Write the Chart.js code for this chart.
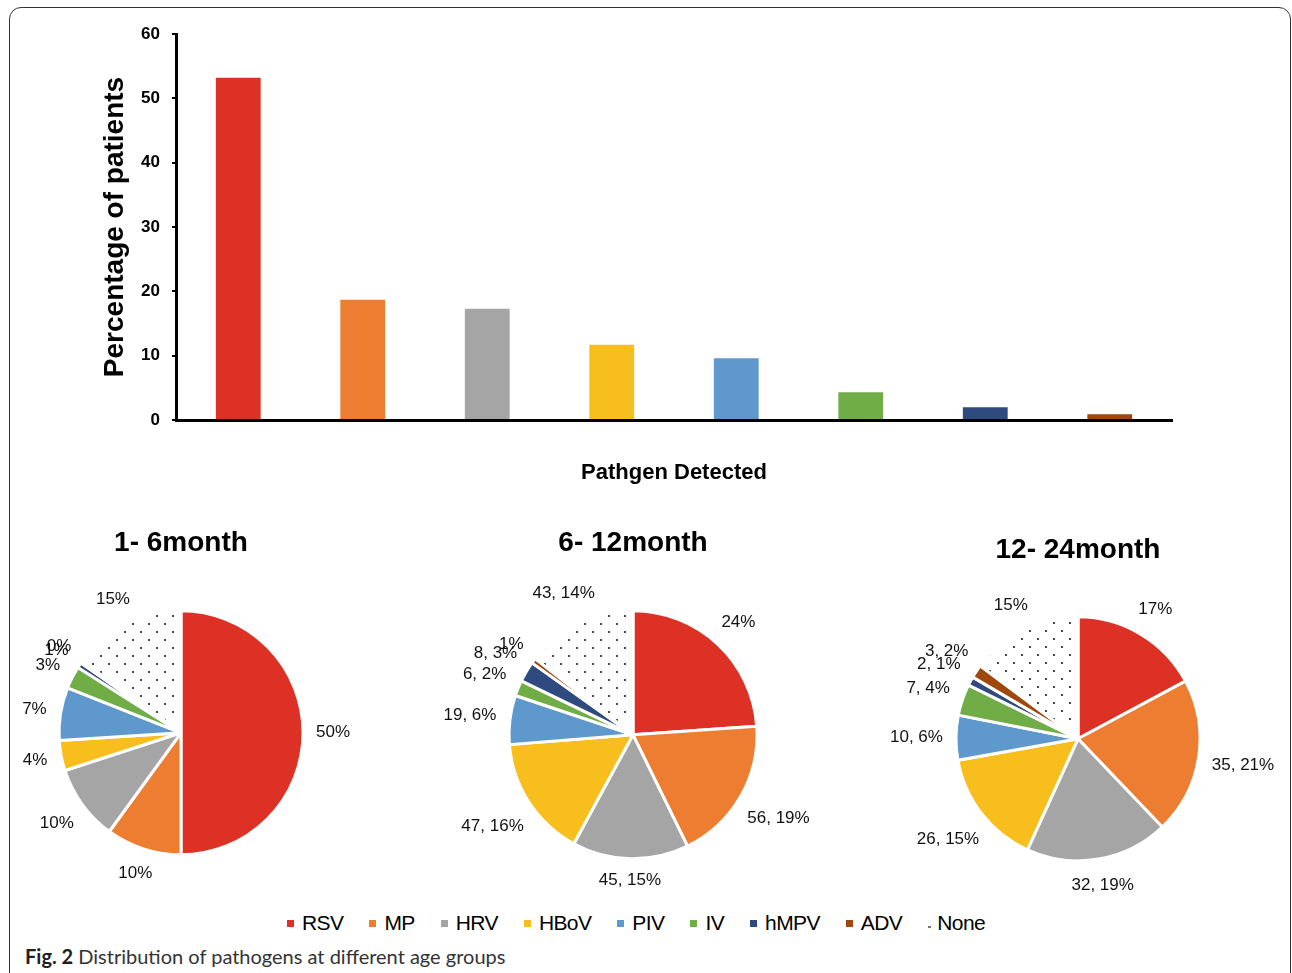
<!DOCTYPE html>
<html><head><meta charset="utf-8">
<script src="https://cdn.jsdelivr.net/npm/chart.js@4.4.1/dist/chart.umd.min.js"></script>
<style>
html,body{margin:0;padding:0;background:#fff;}
body{width:1292px;height:973px;position:relative;overflow:hidden;font-family:"Liberation Sans",Arial,sans-serif;}
#frame{position:absolute;left:9px;top:7px;width:1282px;height:1010px;border:1.5px solid #333;border-radius:12px;box-sizing:border-box;}
canvas{position:absolute;}
#legend{position:absolute;left:287px;top:911px;display:flex;align-items:center;font-size:21px;letter-spacing:-0.6px;color:#000;white-space:nowrap;}
.item{display:flex;align-items:center;margin-right:26px;}
.sw{width:7px;height:7px;margin-right:8px;}
#caption{position:absolute;left:25px;top:944px;font-family:Lato,"Open Sans",sans-serif;font-size:20px;color:#333;white-space:nowrap;}
#caption b{color:#231f20;}
</style></head><body>
<div id="frame"></div>
<canvas id="bar" width="1292" height="500" style="left:0;top:0"></canvas>
<div id="legend"></div>
<div id="caption"><b>Fig. 2</b> Distribution of pathogens at different age groups</div>
<script>
// ---- data ----
const categories = ['RSV','MP','HRV','HBoV','PIV','IV','hMPV','ADV'];
const barValues = [53.2, 18.7, 17.3, 11.7, 9.6, 4.3, 2.0, 0.9];
const yTicks = [0,10,20,30,40,50,60];
const pieCategories = ['RSV','MP','HRV','HBoV','PIV','IV','hMPV','ADV','None'];
const pieTitles = ['1- 6month','6- 12month','12- 24month'];
const pie1Values = [50, 10, 10, 4, 7, 3, 0.7, 0.3, 15];
const pie1Labels = ['50%','10%','10%','4%','7%','3%','1%','0%','15%'];
const pie2Values = [71, 56, 45, 47, 19, 6, 8, 2, 43];
const pie2Labels = ['24%','56, 19%','45, 15%','47, 16%','19, 6%','6, 2%','8, 3%','1%','43, 14%'];
const pie3Values = [29, 35, 32, 26, 10, 7, 2, 3, 25];
const pie3Labels = ['17%','35, 21%','32, 19%','26, 15%','10, 6%','7, 4%','2, 1%','3, 2%','15%'];
const xTitle = 'Pathgen Detected';
const yTitle = 'Percentage of patients';

// ---- styles ----
const colors = ['#DE3125','#ED7D31','#A5A5A5','#F8BE1E','#5F98CD','#70AD47','#2E4A7E','#9E480E'];
const FAM = '"Liberation Sans", Arial, sans-serif';

function dotPattern(){
  const c=document.createElement('canvas'); c.width=16; c.height=16;
  const g=c.getContext('2d');
  g.fillStyle='#fff'; g.fillRect(0,0,16,16);
  g.fillStyle='#4a4a4a'; g.fillRect(3,3,2,2); g.fillRect(11,11,2,2);
  return g.createPattern(c,'repeat');
}
const pieColors = colors.concat([dotPattern()]);

// ---- bar chart ----
new Chart(document.getElementById('bar'), {
  type:'bar',
  data:{labels:categories, datasets:[{data:barValues, backgroundColor:colors, barPercentage:0.36, categoryPercentage:1}]},
  options:{
    responsive:false, animation:false,
    layout:{padding:{left:0, top:34, right:120, bottom:0}},
    plugins:{legend:{display:false}, tooltip:{enabled:false}},
    scales:{
      x:{
        grid:{display:false, drawTicks:false},
        ticks:{display:false},
        border:{display:true, color:'#000', width:3},
        title:{display:true, text:xTitle, color:'#000', font:{family:FAM, size:22, weight:'bold'}, padding:{top:0,bottom:14}},
        afterFit:s=>{s.height=80;}
      },
      y:{
        min:0, max:60,
        afterBuildTicks:s=>{s.ticks=yTicks.map(v=>({value:v}));},
        grid:{drawOnChartArea:false, drawTicks:true, tickLength:4, color:'#000', lineWidth:2},
        border:{display:true, color:'#000', width:3},
        ticks:{color:'#000', padding:12, font:{family:FAM, size:17, weight:'bold'}},
        title:{display:true, text:yTitle, color:'#000', font:{family:FAM, size:28, weight:'bold'}, padding:{top:98,bottom:0}},
        afterFit:s=>{s.width=176;}
      }
    }
  }
});

// ---- pies ----
const pieLabelPlugin = {
  id:'pieLabels',
  afterDatasetsDraw(chart, args, opts){
    const ctx=chart.ctx, meta=chart.getDatasetMeta(0), texts=opts.texts;
    ctx.save();
    ctx.font='17px '+FAM; ctx.fillStyle='#111'; ctx.textAlign='center'; ctx.textBaseline='middle';
    meta.data.forEach((arc,i)=>{
      const p=arc.getProps(['x','y','startAngle','endAngle','outerRadius'], true);
      const mid=(p.startAngle+p.endAngle)/2, dx=Math.cos(mid), dy=Math.sin(mid);
      const w=ctx.measureText(texts[i]).width, h=16;
      const d=p.outerRadius+opts.gap+w/2*Math.abs(dx)+h/2*Math.abs(dy);
      ctx.fillText(texts[i], p.x+dx*d, p.y+dy*d);
    });
    ctx.restore();
  }
};

function makePie(cx, cy, r, ty, values, texts, title){
  const W=440, padB=20, titleBlock=28*1.2+10;
  const top=Math.round(ty-16.8-10);
  const H=Math.round(2*(cy-top)-titleBlock+padB);
  const cv=document.createElement('canvas');
  cv.width=W; cv.height=H; cv.style.left=(cx-W/2)+'px'; cv.style.top=top+'px';
  document.body.appendChild(cv);
  new Chart(cv, {
    type:'pie',
    data:{labels:pieCategories, datasets:[{data:values, backgroundColor:pieColors, borderColor:'#fff', borderWidth:3}]},
    options:{
      responsive:false, animation:false, radius:r+1,
      layout:{padding:{bottom:padB}},
      plugins:{
        legend:{display:false}, tooltip:{enabled:false},
        title:{display:true, text:title, color:'#000', font:{family:FAM, size:28, weight:'bold'}, padding:{top:10,bottom:0}},
        pieLabels:{texts:texts, gap:13}
      }
    },
    plugins:[pieLabelPlugin]
  });
}
makePie(181, 733, 121, 543, pie1Values, pie1Labels, pieTitles[0]);
makePie(633, 735, 123, 543, pie2Values, pie2Labels, pieTitles[1]);
makePie(1078, 739, 121, 550, pie3Values, pie3Labels, pieTitles[2]);

// ---- legend ----
const lg=document.getElementById('legend');
pieCategories.forEach((name,i)=>{
  const it=document.createElement('div'); it.className='item';
  const sw=document.createElement('div'); sw.className='sw';
  if(i<colors.length){ sw.style.background=colors[i]; }
  else { sw.style.background='#777'; sw.style.width='3px'; sw.style.height='2px'; sw.style.marginTop='8px'; sw.style.marginRight='6px'; }
  const tx=document.createElement('span'); tx.textContent=name;
  it.appendChild(sw); it.appendChild(tx); lg.appendChild(it);
});
</script>
</body></html>
